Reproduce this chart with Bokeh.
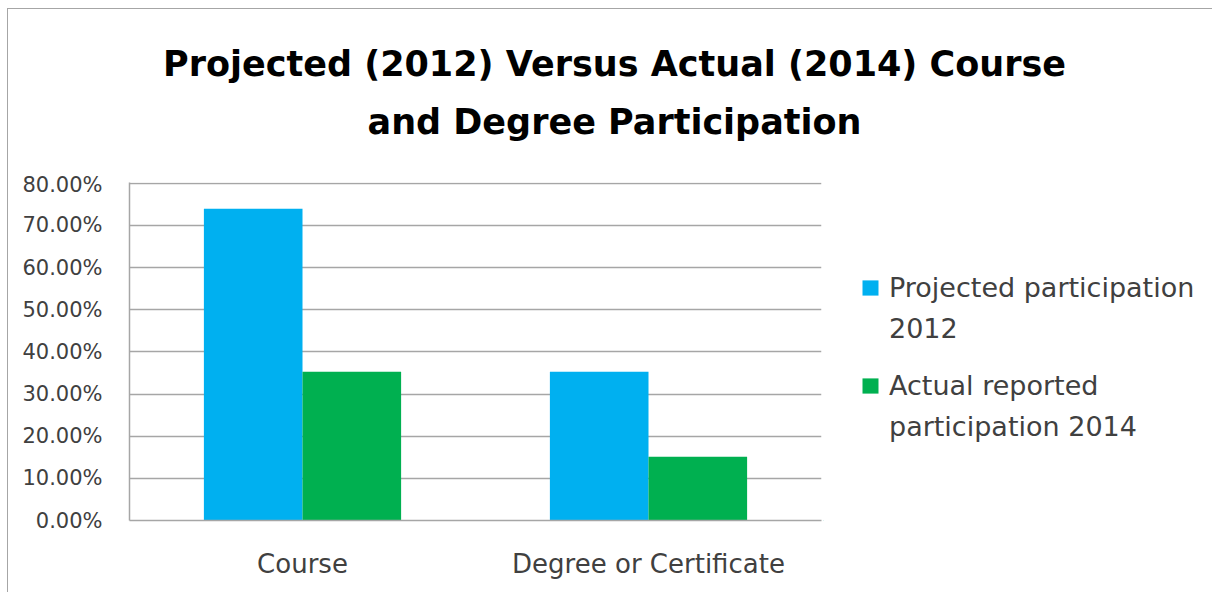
from bokeh.plotting import figure
from bokeh.layouts import column, row
from bokeh.models import (FactorRange, Range1d, FixedTicker, NumeralTickFormatter,
                          Legend, LegendItem, Label, ColumnDataSource)
from bokeh.transform import dodge
from bokeh.embed import file_html
from bokeh.resources import INLINE

categories = ["Course", "Degree or Certificate"]
projected_2012 = [0.74, 0.353]
actual_2014 = [0.353, 0.151]
series1_label_lines = ["Projected participation", "2012"]
series2_label_lines = ["Actual reported", "participation 2014"]
y_ticks = [0.0, 0.1, 0.2, 0.3, 0.4, 0.5, 0.6, 0.7, 0.8]
title_lines = ["Projected (2012) Versus Actual (2014) Course", "and Degree Participation"]

FONT = "DejaVu Sans"
BLUE = "#00B0F0"
GREEN = "#00B050"
GRID = "#a6a6a6"
source = ColumnDataSource(dict(cat=categories, proj=projected_2012, act=actual_2014))


def blank_fig(w, h):
    f = figure(width=w, height=h, x_range=Range1d(0, 1), y_range=Range1d(0, 1),
               output_backend="svg", toolbar_location=None,
               min_border_left=0, min_border_right=0, min_border_top=0, min_border_bottom=0)
    f.axis.visible = False
    f.grid.grid_line_color = None
    f.outline_line_color = None
    f.background_fill_color = "white"
    f.border_fill_color = "white"
    return f


# ---- title strip ----
tf = blank_fig(1204, 163)
for txt, yy in zip(title_lines, [109, 51]):
    tf.add_layout(Label(x=606, y=yy, x_units="screen", y_units="screen", text=txt,
                        text_align="center", text_baseline="middle", text_font=FONT,
                        text_font_size="35px", text_font_style="bold", text_color="#000000"))

# ---- main plot ----
p = figure(x_range=FactorRange(*categories, range_padding=0), y_range=Range1d(0, 0.802),
           width=815, height=420, output_backend="svg", toolbar_location=None,
           min_border_left=121, min_border_right=2, min_border_bottom=72, min_border_top=10)

bw = 0.285
p.vbar(x=dodge("cat", -bw / 2, range=p.x_range), top="proj", width=bw, source=source,
       fill_color=BLUE, line_color=None)
p.vbar(x=dodge("cat", bw / 2, range=p.x_range), top="act", width=bw, source=source,
       fill_color=GREEN, line_color=None)

p.outline_line_color = None
p.background_fill_color = "white"
p.border_fill_color = "white"

p.xgrid.grid_line_color = None
p.ygrid.grid_line_color = GRID
p.ygrid.grid_line_width = 1.5
p.ygrid.ticker = FixedTicker(ticks=y_ticks)

p.yaxis.ticker = FixedTicker(ticks=y_ticks)
p.yaxis.formatter = NumeralTickFormatter(format="0.00%")
p.yaxis.axis_line_color = GRID
p.yaxis.axis_line_width = 1.5
p.yaxis.major_tick_line_color = None
p.yaxis.minor_tick_line_color = None
p.yaxis.major_label_text_font = FONT
p.yaxis.major_label_text_font_size = "21px"
p.yaxis.major_label_text_color = "#404040"
p.yaxis.major_label_standoff = 21

p.xaxis.axis_line_color = GRID
p.xaxis.axis_line_width = 1.5
p.xaxis.major_tick_line_color = None
p.xaxis.minor_tick_line_color = None
p.xaxis.major_label_text_font = FONT
p.xaxis.major_label_text_font_size = "26px"
p.xaxis.major_label_text_color = "#404040"
p.xaxis.major_label_standoff = 22

# ---- legend strip (its frame is aligned with the main plot's frame) ----
lf = blank_fig(389, 420)
e = dict(x=[-5], top=[-5])
g1 = lf.vbar(x="x", top="top", bottom=-6, width=0.1, source=ColumnDataSource(e),
             fill_color=BLUE, line_color=None)
g2 = lf.vbar(x="x", top="top", bottom=-6, width=0.1, source=ColumnDataSource(e),
             fill_color=GREEN, line_color=None)
gd = lf.vbar(x="x", top="top", bottom=-6, width=0.1, source=ColumnDataSource(e),
             fill_alpha=0, line_alpha=0)


def make_legend(lines, r, loc):
    lg = Legend(items=[LegendItem(label=lines[0], renderers=[r]),
                       LegendItem(label=lines[1], renderers=[gd])],
                location=loc, orientation="vertical",
                label_text_font=FONT, label_text_font_size="27px", label_text_color="#404040",
                glyph_width=20, glyph_height=19, label_standoff=9, spacing=0, label_height=41,
                padding=0, margin=0, border_line_color=None, background_fill_alpha=0)
    lf.add_layout(lg, "center")


make_legend(series1_label_lines, g1, (37, 171))
make_legend(series2_label_lines, g2, (37, 73))

layout = column(tf, row(p, lf, spacing=0), spacing=0)
layout.styles = {"margin-left": "7px", "margin-top": "8px",
                 "border-left": "1px solid #a6a6a6", "border-top": "1px solid #a6a6a6"}

open("out.html", "w").write(file_html(layout, INLINE))
